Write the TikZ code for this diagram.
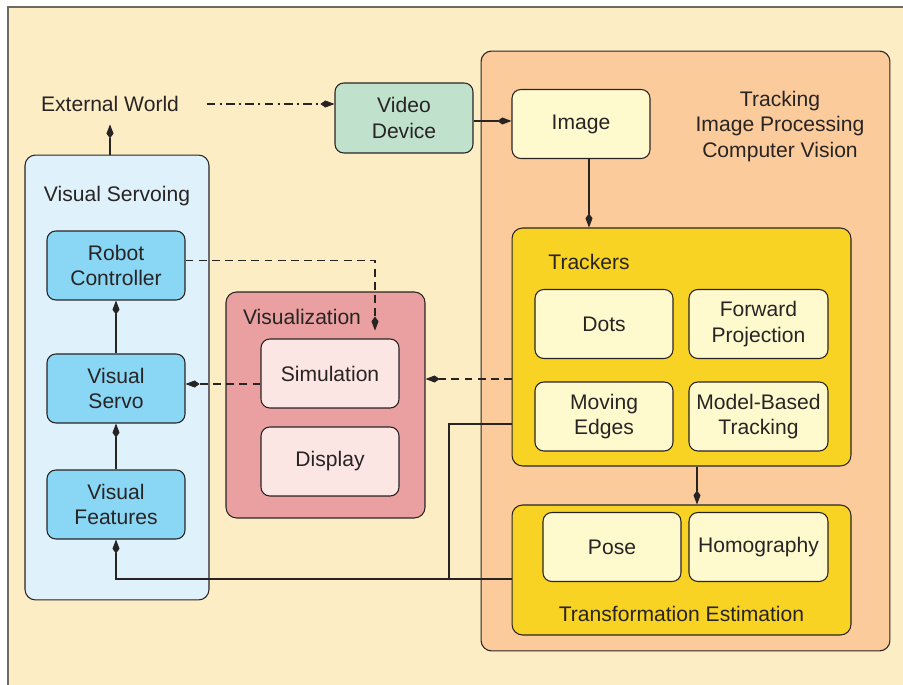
\documentclass[tikz,border=0pt]{standalone}
\usepackage{fontspec}
\setmainfont{Liberation Sans}
\usetikzlibrary{arrows.meta,positioning}

\definecolor{cream}{RGB}{253,237,197}
\definecolor{frame}{RGB}{110,105,100}
\definecolor{ink}{RGB}{40,36,36}
\definecolor{trackbg}{RGB}{251,203,155}
\definecolor{videobg}{RGB}{192,226,204}
\definecolor{paleyellow}{RGB}{255,250,206}
\definecolor{gold}{RGB}{249,211,35}
\definecolor{servobg}{RGB}{223,242,251}
\definecolor{servobox}{RGB}{138,214,245}
\definecolor{vizbg}{RGB}{234,160,160}
\definecolor{vizbox}{RGB}{252,230,228}

\tikzset{
  txt/.style={text=ink,font=\fontsize{12}{14.7}\selectfont,align=center},
  blk/.style={txt,draw=ink,line width=0.6pt,rounded corners=5pt,
    minimum width=2.76cm,minimum height=1.38cm,inner sep=0pt},
  grp/.style={draw=ink,line width=0.6pt,rounded corners=6pt,inner sep=0pt},
  link/.style={draw=ink,line width=0.6pt},
  tip/.style={link,-{Kite[length=8pt,width=4pt,inset=2.8pt]}},
}

\begin{document}
\begin{tikzpicture}[x=0.02cm,y=-0.02cm]
  \useasboundingbox (0,0) rectangle (903,685);
  \clip (0,0) rectangle (903,685);
  \draw[frame,fill=cream,line width=0.8pt] (8,7) rectangle (930,700);

  % group boxes
  \node[grp,fill=trackbg,minimum width=8.18cm,minimum height=12cm] (track) at (685.5,351) {};
  \node[grp,fill=servobg,minimum width=3.68cm,minimum height=8.9cm] (vs) at (117,377.5) {};
  \node[grp,fill=vizbg,minimum width=3.98cm,minimum height=4.52cm] (viz) at (325.5,405) {};
  \node[grp,fill=gold,minimum width=6.78cm,minimum height=4.76cm] (trk) at (681.5,347) {};
  \node[grp,fill=gold,minimum width=6.78cm,minimum height=2.6cm] (tfm) at (681.5,570) {};

  \node[txt] at (780,126.5) {Tracking\\Image Processing\\Computer Vision};
  \node[txt] at (117,196) {Visual Servoing};
  \node[txt] at (302,317) {Visualization};
  \node[txt] at (589,262) {Trackers};
  \node[txt] at (681.5,614) {Transformation Estimation};

  % blocks
  \node[txt,inner sep=7pt] (ext) at (110,104) {External World};
  \node[blk,fill=videobg,minimum height=1.4cm] (vdev) at (404,118) {Video\\Device};
  \node[blk,fill=paleyellow] (img) at (581,124) {Image};
  \node[blk,fill=paleyellow] (dots) at (604,324) {Dots};
  \node[blk,fill=paleyellow,minimum width=2.78cm] (fwd) at (758.5,324) {Forward\\Projection};
  \node[blk,fill=paleyellow] (medge) at (604,416.5) {Moving\\Edges};
  \node[blk,fill=paleyellow,minimum width=2.78cm] (mbt) at (758.5,416.5) {Model-Based\\Tracking};
  \node[blk,fill=paleyellow] (pose) at (612,547) {Pose};
  \node[blk,fill=paleyellow,minimum width=2.78cm] (homog) at (758.5,547) {Homography};
  \node[blk,fill=servobox] (robot) at (116,265.5) {Robot\\Controller};
  \node[blk,fill=servobox] (servo) at (116,388.5) {Visual\\Servo};
  \node[blk,fill=servobox] (feat) at (116,504.5) {Visual\\Features};
  \node[blk,fill=vizbox] (sim) at (330,373.5) {Simulation};
  \node[blk,fill=vizbox] (disp) at (330,461.5) {Display};

  % connectors
  \draw[tip] (vs.north -| ext) -- (ext.south);
  \draw[tip,dash pattern=on 5pt off 2.5pt on 1pt off 2.5pt]
    ([xshift=0.3cm]ext.east) -- (vdev.west |- ext.east);
  \draw[tip] ([yshift=-0.06cm]vdev.east) -- ([yshift=-0.06cm]vdev.east -| img.west);
  \draw[tip] ([xshift=0.16cm]img.south) -- ([xshift=0.16cm]img.south |- trk.north);
  \draw[tip] ([xshift=0.31cm]trk.south) -- ([xshift=0.31cm]trk.south |- tfm.north);
  \draw[tip] (feat) -- (servo);
  \draw[tip] (servo) -- (robot);
  \draw[tip,dash pattern=on 4.5pt off 3pt,shorten >=4.5pt]
    ([yshift=0.1cm]robot.east) -| ([xshift=0.9cm]sim.north);
  \path ([yshift=-0.21cm]sim.west) coordinate (s1);
  \draw[tip,dash pattern=on 4.5pt off 3pt] (s1) -- (s1 -| servo.east);
  \coordinate (t1) at (512,379);
  \draw[tip,dash pattern=on 4.5pt off 3pt] (t1) -- (t1 -| viz.east);
  \coordinate (fbt) at (449,424);
  \coordinate (fb) at (449,579);
  \draw[tip] (trk.west |- fbt) -| (fb) -| (feat.south);
  \draw[link] (tfm.west |- fb) -- (fb);
\end{tikzpicture}
\end{document}
